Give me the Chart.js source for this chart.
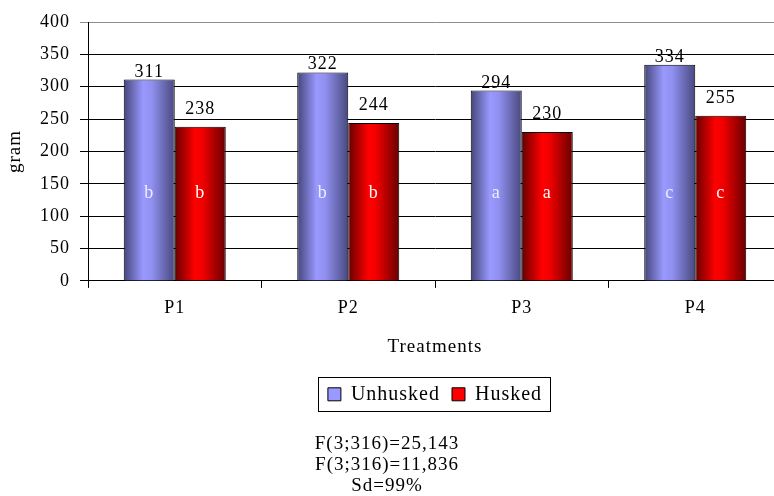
<!DOCTYPE html>
<html>
<head>
<meta charset="utf-8">
<title>Treatments – gram</title>
<script src="https://cdn.jsdelivr.net/npm/chart.js@4.4.1/dist/chart.umd.min.js"></script>
<style>
  html, body { margin: 0; padding: 0; background: #fff; overflow: hidden; }
  body { width: 774px; height: 496px; position: relative; }
  #wrap { position: absolute; left: -8px; top: 0; width: 798px; height: 496px; }
</style>
</head>
<body>
<div id="wrap"><canvas id="chart"></canvas></div>
<script>
'use strict';

// ── Data ─────────────────────────────────────────────────────
const categories     = ['P1', 'P2', 'P3', 'P4'];
const unhusked       = [311, 322, 294, 334];
const husked         = [238, 244, 230, 255];
const unhuskedGroups = ['b', 'b', 'a', 'c'];
const huskedGroups   = ['b', 'b', 'a', 'c'];
const yMax  = 400;
const yStep = 50;
const statsLines = ['F(3;316)=25,143', 'F(3;316)=11,836', 'Sd=99%'];

// ── Style ────────────────────────────────────────────────────
const SERIF   = '"Liberation Serif", "Times New Roman", serif';
const CAT_PCT = 0.588;
const LETTER_AT = 128;   // value on the y scale where group letters sit
const flatColors = ['#9999ff', '#ff0000'];

Chart.defaults.font.family = SERIF;
Chart.defaults.color = '#000';

// horizontal cylinder-like shading, computed from the x scale
function shade(stops, flat) {
  return (c) => {
    if (c.type !== 'data') return flat;
    const xs = c.chart.scales.x;
    if (!xs || !c.chart.chartArea) return flat;
    const barW   = xs.width / categories.length * CAT_PCT / 2;
    const center = xs.getPixelForValue(c.dataIndex);
    const left   = c.datasetIndex === 0 ? center - barW : center;
    const g = c.chart.ctx.createLinearGradient(left, 0, left + barW, 0);
    stops.forEach(([o, col]) => g.addColorStop(o, col));
    return g;
  };
}

const blueStops = [[0, '#45457a'], [0.38, '#9999ff'], [0.55, '#9090f0'], [1, '#48487e']];
const redStops  = [[0, '#660000'], [0.4, '#ff0000'], [0.55, '#f00000'], [1, '#680000']];

// the original text is slightly stretched: widen it a little
const spacing = {
  id: 'spacing',
  beforeUpdate(chart) { chart.ctx.letterSpacing = '1px'; },
  beforeDraw(chart)   { chart.ctx.letterSpacing = '1px'; }
};

// ── Labels above / inside bars, and the legend frame ─────────
const barLabels = {
  id: 'barLabels',
  afterDatasetsDraw(chart) {
    const { ctx, scales: { y } } = chart;
    const gaps    = [3, 13];
    const letters = [unhuskedGroups, huskedGroups];
    const tints   = ['#eeeeff', '#ffffff'];
    ctx.save();
    ctx.font = '18px ' + SERIF;
    ctx.textAlign = 'center';
    ctx.textBaseline = 'alphabetic';
    chart.data.datasets.forEach((ds, di) => {
      chart.getDatasetMeta(di).data.forEach((bar, i) => {
        ctx.fillStyle = '#000';
        ctx.fillText(String(ds.data[i]), bar.x, bar.y - gaps[di]);
        ctx.fillStyle = tints[di];
        ctx.fillText(letters[di][i], bar.x, y.getPixelForValue(LETTER_AT));
      });
    });
    ctx.restore();
  },
  afterDraw(chart) {
    const boxes = chart.legend && chart.legend.legendHitBoxes;
    if (!boxes || !boxes.length) return;
    const left   = Math.min(...boxes.map(b => b.left)) - 10;
    const right  = Math.max(...boxes.map(b => b.left + b.width)) + 8;
    const top    = Math.min(...boxes.map(b => b.top)) - 7;
    const bottom = Math.max(...boxes.map(b => b.top + b.height)) + 7;
    const ctx = chart.ctx;
    ctx.save();
    ctx.strokeStyle = '#000';
    ctx.lineWidth = 1;
    ctx.strokeRect(Math.round(left) + 0.5, Math.round(top) + 0.5,
                   Math.round(right - left), Math.round(bottom - top));
    ctx.restore();
  }
};

new Chart(document.getElementById('chart'), {
  type: 'bar',
  data: {
    labels: categories,
    datasets: [
      {
        label: 'Unhusked',
        data: unhusked,
        backgroundColor: shade(blueStops, flatColors[0]),
        borderColor: '#000',
        borderWidth: 1,
        categoryPercentage: CAT_PCT,
        barPercentage: 1,
      },
      {
        label: 'Husked',
        data: husked,
        backgroundColor: shade(redStops, flatColors[1]),
        borderColor: '#000',
        borderWidth: 1,
        categoryPercentage: CAT_PCT,
        barPercentage: 1,
      }
    ]
  },
  options: {
    responsive: true,
    maintainAspectRatio: false,
    animation: false,
    layout: { padding: { left: 0, right: 8, top: 22, bottom: 0 } },
    plugins: {
      tooltip: { enabled: false },
      legend: {
        position: 'bottom',
        fullSize: false,
        labels: {
          font: { size: 20 },
          boxWidth: 13,
          boxHeight: 13,
          padding: 12,
          generateLabels: (chart) =>
            Chart.defaults.plugins.legend.labels.generateLabels(chart)
              .map((l, i) => Object.assign(l, { fillStyle: flatColors[i], strokeStyle: '#000', lineWidth: 1 })),
        }
      },
      subtitle: {
        display: true,
        position: 'bottom',
        text: statsLines,
        font: { size: 19, lineHeight: 1.1 },
        padding: { top: 19, bottom: 0 },
        color: '#000',
      }
    },
    scales: {
      x: {
        grid: { drawOnChartArea: false, tickLength: 7, color: '#000' },
        border: { color: '#000', width: 1 },
        ticks: { font: { size: 18 }, padding: 10 },
        title: { display: true, text: 'Treatments', font: { size: 19 }, padding: { top: 6, bottom: 14 } },
      },
      y: {
        min: 0,
        max: yMax,
        afterFit: (s) => { s.width = 96; },
        grid: {
          tickLength: 8,
          color: (c) => c.tick && c.tick.value === yMax ? '#8c8c8c' : '#000',
        },
        border: { color: '#000', width: 1 },
        ticks: { stepSize: yStep, font: { size: 18 }, padding: 10 },
        title: { display: true, text: 'gram', font: { size: 19 }, padding: { top: 12, bottom: 0 } },
      }
    }
  },
  plugins: [spacing, barLabels]
});
</script>
</body>
</html>
